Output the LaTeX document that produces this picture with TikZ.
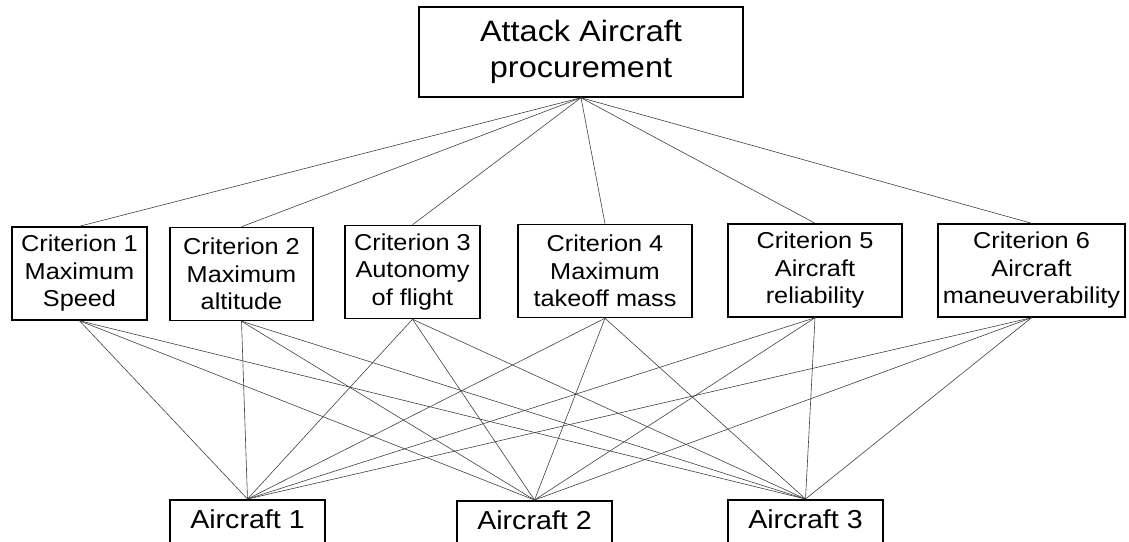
\documentclass[tikz,border=0pt]{standalone}
\usepackage{fontspec}
\setmainfont{Liberation Sans}[FakeStretch=1.1]
\usepackage{tikz}
\usetikzlibrary{positioning}

\begin{document}
\begin{tikzpicture}[
  goal/.style={draw,line width=1.5pt,minimum width=324pt,minimum height=90pt,
               align=center,font=\fontsize{29.5}{36}\selectfont,inner sep=0pt},
  crit/.style={draw,line width=1.5pt,minimum height=93pt,
               align=center,font=\fontsize{23}{27.5}\selectfont,inner sep=0pt},
  alt/.style={draw,line width=1.5pt,minimum width=155pt,minimum height=50pt,
              font=\fontsize{26}{30}\selectfont,text depth=12pt,anchor=north,inner sep=0pt},
  link/.style={line width=0.6pt,draw=black!75},
  x=1pt,y=-1pt
]
\useasboundingbox (0,0) rectangle (1129,541);
% Goal
\node[goal] (goal) at (581,52) {Attack Aircraft\\procurement};
% Criteria
\node[crit,minimum width=135pt] (c1) at (79.5,273.5) {Criterion 1\\Maximum\\Speed};
\node[crit,minimum width=143pt] (c2) at (241.5,274) {Criterion 2\\Maximum\\altitude};
\node[crit,minimum width=135pt] (c3) at (412.5,272) {Criterion 3\\Autonomy\\of flight};
\node[crit,minimum width=174pt] (c4) at (605,271) {Criterion 4\\Maximum\\takeoff mass};
\node[crit,minimum width=174pt] (c5) at (815,270.5) {Criterion 5\\Aircraft\\reliability};
\node[crit,minimum width=187pt] (c6) at (1031.5,270.5) {Criterion 6\\Aircraft\\maneuverability};
% Alternatives
\node[alt] (a1) at (247.5,499) {Aircraft 1};
\node[alt] (a2) at (534.5,500) {Aircraft 2};
\node[alt] (a3) at (805.5,499) {Aircraft 3};

% goal -> criteria
\draw[link] (goal.south) -- (c1.north);
\draw[link] (goal.south) -- (c2.north);
\draw[link] (goal.south) -- (c3.north);
\draw[link] (goal.south) -- (c4.north);
\draw[link] (goal.south) -- (c5.north);
\draw[link] (goal.south) -- (c6.north);
% criteria -> alternatives
\draw[link] (c1.south) -- (a1.north);
\draw[link] (c1.south) -- (a2.north);
\draw[link] (c1.south) -- (a3.north);
\draw[link] (c2.south) -- (a1.north);
\draw[link] (c2.south) -- (a2.north);
\draw[link] (c2.south) -- (a3.north);
\draw[link] (c3.south) -- (a1.north);
\draw[link] (c3.south) -- (a2.north);
\draw[link] (c3.south) -- (a3.north);
\draw[link] (c4.south) -- (a1.north);
\draw[link] (c4.south) -- (a2.north);
\draw[link] (c4.south) -- (a3.north);
\draw[link] (c5.south) -- (a1.north);
\draw[link] (c5.south) -- (a2.north);
\draw[link] (c5.south) -- (a3.north);
\draw[link] (c6.south) -- (a1.north);
\draw[link] (c6.south) -- (a2.north);
\draw[link] (c6.south) -- (a3.north);
\end{tikzpicture}
\end{document}
